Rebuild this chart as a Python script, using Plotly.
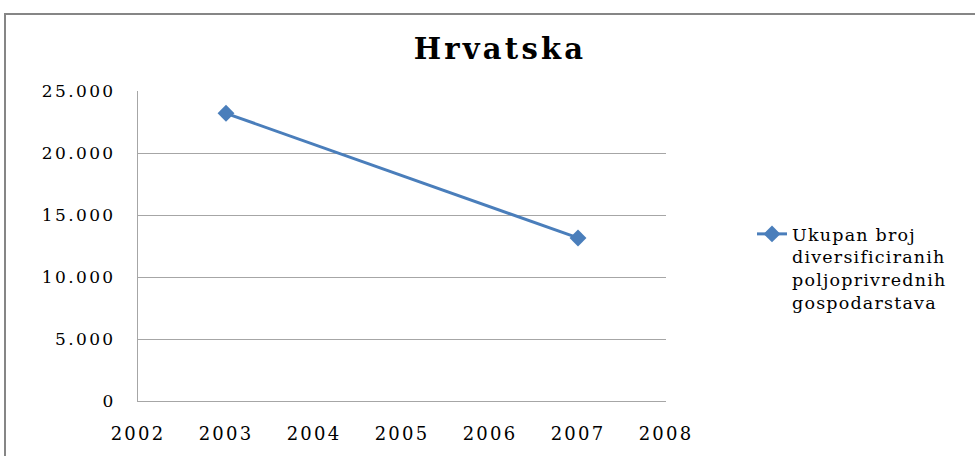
import plotly.graph_objects as go

# Data
years = [2003, 2007]
farms = [23200, 13150]
series_name = "Ukupan broj<br>diversificiranih<br>poljoprivrednih<br>gospodarstava"
chart_title = "Hrvatska"
y_ticks = [0, 5000, 10000, 15000, 20000, 25000]
x_ticks = [2002, 2003, 2004, 2005, 2006, 2007, 2008]

BLUE = "#4A7EBB"
GRID = "#A6A6A6"
FONT = "DejaVu Serif"


def spaced(text, px):
    return f'<span style="letter-spacing:{px}px">{text}</span>'


def thousands(v):
    return f"{v:,}".replace(",", ".")


fig = go.Figure()
fig.add_trace(go.Scatter(
    x=years, y=farms, mode="lines+markers",
    name=spaced(series_name, 1.2),
    line=dict(color=BLUE, width=3),
    marker=dict(symbol="diamond", size=13, color=BLUE),
))

W, H = 975, 456
L, R, T, B = 138, 309, 91, 55
pw, ph = W - L - R, H - T - B

fig.update_layout(
    width=W, height=H,
    margin=dict(l=L, r=R, t=T, b=B, autoexpand=False),
    paper_bgcolor="white", plot_bgcolor="white",
    font=dict(family=FONT, color="black", size=17),
    title=dict(text=spaced("<b>" + chart_title + "</b>", 3.2),
               font=dict(family=FONT, size=29, color="black"),
               x=500 / W, xanchor="center", xref="container",
               y=1 - 49 / H, yanchor="middle", yref="container",
               automargin=False),
    showlegend=True,
    legend=dict(x=(752 - L) / pw, y=1 - (216 - T) / ph,
                xanchor="left", yanchor="top", valign="top",
                font=dict(family=FONT, size=17.5, color="black"),
                bgcolor="rgba(0,0,0,0)", tracegroupgap=0),
    xaxis=dict(range=[x_ticks[0], x_ticks[-1]], tickmode="array",
               tickvals=x_ticks, ticktext=[spaced(str(v), 2.2) for v in x_ticks],
               showgrid=False, showline=True, linecolor=GRID, linewidth=1,
               ticks="", ticklabelstandoff=16, zeroline=False, automargin=False,
               tickfont=dict(family=FONT, size=18, color="black")),
    yaxis=dict(range=[y_ticks[0], y_ticks[-1]], tickmode="array",
               tickvals=y_ticks, ticktext=[spaced(thousands(v), 2.4) for v in y_ticks],
               showgrid=True, gridcolor=GRID, gridwidth=1,
               showline=True, linecolor=GRID, linewidth=1,
               ticks="", ticklabelstandoff=18, zeroline=False, automargin=False,
               tickfont=dict(family=FONT, size=17, color="black")),
    shapes=[dict(type="rect", xref="paper", yref="paper",
                 x0=(5 - L) / pw, x1=(W + 10 - L) / pw,
                 y0=-(B + 10) / ph, y1=1 + (T - 14) / ph,
                 line=dict(color="#868686", width=2), layer="below")],
)

fig.write_html("out.html")
